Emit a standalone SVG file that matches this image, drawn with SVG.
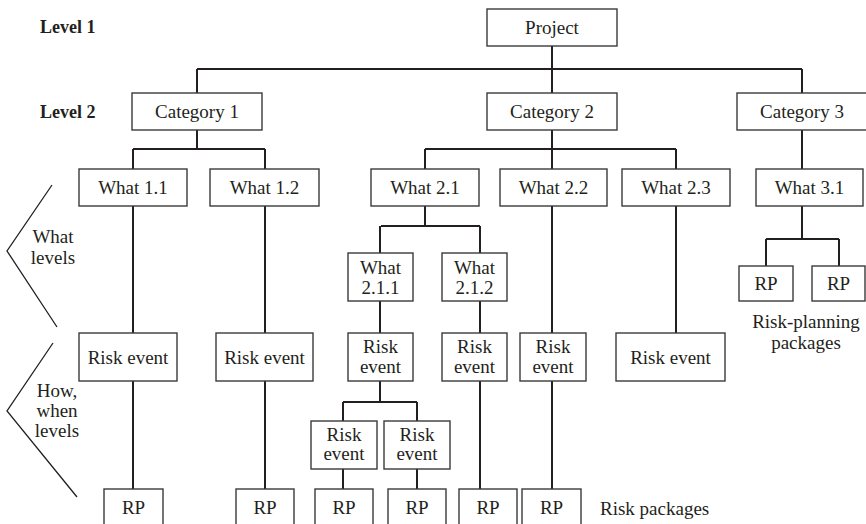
<svg xmlns="http://www.w3.org/2000/svg" width="866" height="524" viewBox="0 0 866 524">
<style>
.b{fill:#fff;stroke:#3a3a3a;stroke-width:1.4}
.t{font-family:"Liberation Serif",serif;font-size:19px;fill:#231f20;text-anchor:middle}
.l{font-family:"Liberation Serif",serif;font-size:18px;font-weight:bold;fill:#231f20}
.c{fill:none;stroke:#231f20;stroke-width:2}
.k{fill:none;stroke:#231f20;stroke-width:1.3}
</style>
<rect width="866" height="524" fill="#fff"/>
<g id="connectors">
<path class="c" d="M552 46V93M197 69H802M197 69V93M802 69V93"/>
<path class="c" d="M197 130V149M133 149H265M133 149V169M265 149V169"/>
<path class="c" d="M552 130V169M425 149H676M425 149V169M676 149V169"/>
<path class="c" d="M802 130V169"/>
<path class="c" d="M133 206V333M133 381V489M265 206V333M265 381V489"/>
<path class="c" d="M425 206V226M381 226H480M380 226V253M480 226V253"/>
<path class="c" d="M380 301V333M380 381V402M343 402H417M343 402V421M417 402V421M343 469V489M417 469V489"/>
<path class="c" d="M480 301V333M480 381V489M552 206V333M552 381V489M676 206V333"/>
<path class="c" d="M802 206V239M766 239H839M766 239V266M839 239V266"/>
</g>
<g id="labels">
<text class="l" x="40" y="33">Level 1</text>
<text class="l" x="40" y="118">Level 2</text>
<path class="k" d="M52 185L7 251L57 327"/>
<text class="t" x="53" y="243">What</text>
<text class="t" x="53" y="264">levels</text>
<path class="k" d="M53 343L7 411L77 497"/>
<text class="t" x="57" y="397">How,</text>
<text class="t" x="57" y="417">when</text>
<text class="t" x="57" y="437">levels</text>
<text class="t" x="806" y="328">Risk-planning</text>
<text class="t" x="806" y="349">packages</text>
<text class="t" x="600" y="515" style="text-anchor:start">Risk packages</text>
</g>
<g id="project"><rect class="b" x="487" y="9" width="130" height="37"/><text class="t" x="552" y="34">Project</text></g>
<g id="cat1"><rect class="b" x="132" y="93" width="130" height="37"/><text class="t" x="197" y="118">Category 1</text></g>
<g id="cat2"><rect class="b" x="487" y="93" width="130" height="37"/><text class="t" x="552" y="118">Category 2</text></g>
<g id="cat3"><rect class="b" x="737" y="93" width="132" height="37"/><text class="t" x="802" y="118">Category 3</text></g>
<g id="what11"><rect class="b" x="79" y="169" width="108" height="37"/><text class="t" x="133" y="194">What 1.1</text></g>
<g id="what12"><rect class="b" x="210" y="169" width="109" height="37"/><text class="t" x="264.5" y="194">What 1.2</text></g>
<g id="what21"><rect class="b" x="371" y="169" width="108" height="37"/><text class="t" x="425" y="194">What 2.1</text></g>
<g id="what22"><rect class="b" x="500" y="169" width="107" height="37"/><text class="t" x="553.5" y="194">What 2.2</text></g>
<g id="what23"><rect class="b" x="622" y="169" width="108" height="37"/><text class="t" x="676" y="194">What 2.3</text></g>
<g id="what31"><rect class="b" x="756" y="169" width="107" height="37"/><text class="t" x="809.5" y="194">What 3.1</text></g>
<g id="what211"><rect class="b" x="348" y="253" width="65" height="48"/><text class="t" x="380.5" y="274">What</text><text class="t" x="380.5" y="294">2.1.1</text></g>
<g id="what212"><rect class="b" x="442" y="253" width="65" height="48"/><text class="t" x="474.5" y="274">What</text><text class="t" x="474.5" y="294">2.1.2</text></g>
<g id="rp31a"><rect class="b" x="739" y="266" width="54" height="35"/><text class="t" x="766" y="290">RP</text></g>
<g id="rp31b"><rect class="b" x="812" y="266" width="53" height="35"/><text class="t" x="838.5" y="290">RP</text></g>
<g id="re11"><rect class="b" x="79" y="333" width="98" height="48"/><text class="t" x="128" y="364">Risk event</text></g>
<g id="re12"><rect class="b" x="216" y="333" width="97" height="48"/><text class="t" x="264.5" y="364">Risk event</text></g>
<g id="re211"><rect class="b" x="348" y="333" width="65" height="48"/><text class="t" x="380.5" y="353">Risk</text><text class="t" x="380.5" y="373">event</text></g>
<g id="re212"><rect class="b" x="442" y="333" width="65" height="48"/><text class="t" x="474.5" y="353">Risk</text><text class="t" x="474.5" y="373">event</text></g>
<g id="re22"><rect class="b" x="520" y="333" width="66" height="48"/><text class="t" x="553" y="353">Risk</text><text class="t" x="553" y="373">event</text></g>
<g id="re23"><rect class="b" x="616" y="333" width="109" height="48"/><text class="t" x="670.5" y="364">Risk event</text></g>
<g id="re211a"><rect class="b" x="311" y="421" width="66" height="48"/><text class="t" x="344" y="441">Risk</text><text class="t" x="344" y="460">event</text></g>
<g id="re211b"><rect class="b" x="384" y="421" width="66" height="48"/><text class="t" x="417" y="441">Risk</text><text class="t" x="417" y="460">event</text></g>
<g id="rp1"><rect class="b" x="104" y="489" width="59" height="42"/><text class="t" x="133.5" y="514">RP</text></g>
<g id="rp2"><rect class="b" x="236" y="489" width="58" height="42"/><text class="t" x="265" y="514">RP</text></g>
<g id="rp3"><rect class="b" x="315" y="489" width="58" height="42"/><text class="t" x="344" y="514">RP</text></g>
<g id="rp4"><rect class="b" x="388" y="489" width="58" height="42"/><text class="t" x="417" y="514">RP</text></g>
<g id="rp5"><rect class="b" x="459" y="489" width="58" height="42"/><text class="t" x="488" y="514">RP</text></g>
<g id="rp6"><rect class="b" x="522" y="489" width="59" height="42"/><text class="t" x="551.5" y="514">RP</text></g>
</svg>
